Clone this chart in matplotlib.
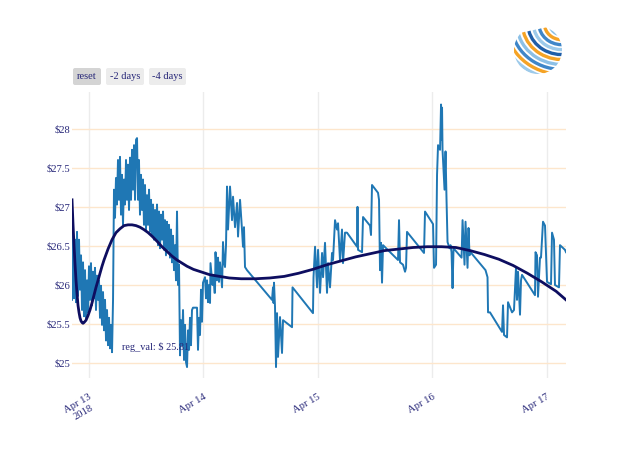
import numpy as np
import matplotlib
matplotlib.use("Agg")
import matplotlib.pyplot as plt
from matplotlib.patches import FancyBboxPatch, Arc, Circle

# ---------------- data (hours after 2018-04-13 00:00, price in $) ----------------
hours = [-3.46, -3.25, -3.04, -2.83, -2.62, -2.41, -2.20, -1.99, -1.78, -1.57, -1.36, -1.15,
         -0.94, -0.73, -0.52, -0.31, -0.10, 0.10, 0.31, 0.52, 0.73, 0.94, 1.15, 1.36, 1.57,
         1.78, 1.99, 2.20, 2.41, 2.62, 2.83, 3.04, 3.25, 3.46, 3.67, 3.88, 4.09, 4.30, 4.51,
         4.72, 4.93, 5.14, 5.34, 5.55, 5.76, 5.97, 6.18, 6.39, 6.60, 6.81, 7.02, 7.23, 7.44,
         7.65, 7.86, 8.07, 8.28, 8.49, 8.70, 8.91, 9.12, 9.33, 9.54, 9.75, 9.96, 10.17, 10.38,
         10.58, 10.79, 11.00, 11.21, 11.42, 11.63, 11.84, 12.05, 12.26, 12.47, 12.68, 12.89,
         13.10, 13.31, 13.52, 13.73, 13.94, 14.15, 14.36, 14.57, 14.78, 14.99, 15.20, 15.41,
         15.62, 15.83, 16.03, 16.24, 16.45, 16.66, 16.87, 17.08, 17.29, 17.50, 17.71, 17.92,
         18.13, 18.34, 18.55, 18.76, 18.97, 19.18, 19.39, 19.60, 19.81, 20.02, 20.23, 20.44,
         20.65, 20.86, 21.07, 21.27, 21.48, 21.69, 21.90, 22.74, 22.95, 23.16, 23.37, 23.58,
         23.79, 24.00, 24.42, 24.63, 24.84, 25.05, 25.26, 25.47, 25.57, 25.99, 26.20, 26.41,
         26.51, 26.62, 26.93, 27.14, 27.35, 27.56, 27.99, 28.19, 28.40, 28.61, 28.82, 29.03,
         29.24, 29.66, 30.08, 30.29, 30.71, 31.13, 31.34, 31.76, 32.17, 32.38, 32.59, 32.80,
         33.22, 38.46, 38.67, 38.78, 38.88, 39.09, 39.30, 39.51, 39.72, 40.14, 40.56, 40.77,
         42.66, 42.76, 47.05, 47.16, 47.48, 47.90, 48.11, 48.53, 48.95, 49.16, 49.57, 49.99,
         50.20, 50.62, 51.04, 51.25, 51.67, 52.09, 52.30, 52.71, 53.13, 53.34, 53.76, 54.18,
         56.28, 56.38, 56.49, 57.33, 57.54, 59.00, 59.21, 59.42, 60.68, 60.89, 61.10, 61.31,
         61.52, 61.73, 64.87, 65.08, 65.29, 65.92, 66.34, 66.55, 66.76, 70.32, 70.53, 72.21,
         72.42, 72.84, 73.05, 73.26, 73.68, 73.89, 73.99, 74.10, 74.20, 74.62, 74.83, 75.04,
         75.25, 75.67, 75.88, 76.09, 76.30, 76.51, 78.19, 78.40, 78.81, 79.02, 79.44, 79.65,
         79.86, 80.07, 83.21, 83.63, 83.74, 84.15, 86.67, 86.88, 87.09, 87.72, 87.93, 88.77,
         89.18, 89.60, 89.81, 90.02, 90.44, 90.65, 90.86, 93.58, 93.69, 94.00, 94.21, 94.63,
         94.84, 95.26, 95.68, 96.10, 96.94, 97.15, 97.56, 97.77, 98.61, 98.82, 99.87, 100.08]
price = [25.81, 26.73, 25.83, 26.58, 25.78, 26.68, 25.86, 26.58, 25.94, 26.38, 25.68, 26.29,
         25.60, 26.19, 25.55, 26.06, 25.65, 26.24, 25.81, 26.28, 25.74, 26.17, 25.83, 26.22, 25.68,
         26.12, 25.81, 26.06, 25.58, 25.99, 25.49, 25.91, 25.42, 25.81, 25.29, 25.68, 25.23, 25.58, 25.19,
         25.49, 25.14, 25.81, 27.22, 26.86, 27.37, 27.03, 27.60, 27.09, 27.64, 26.90, 27.41, 26.77, 27.35,
         27.03, 27.60, 27.09, 27.54, 26.96, 27.63, 27.09, 27.73, 27.22, 27.79, 27.09, 27.86, 27.88, 27.09,
         27.60, 26.90, 27.41, 26.96, 27.35, 26.77, 27.28, 26.71, 27.15, 26.77, 27.22, 26.68,
         27.09, 26.64, 27.03, 26.58, 26.96, 26.60, 27.03, 26.51, 26.94, 26.47, 26.90, 26.58,
         26.94, 26.45, 26.83, 26.38, 26.81, 26.45, 26.77, 26.35, 26.71, 26.29, 26.63, 26.19,
         26.51, 26.06, 26.94, 26.00, 26.26, 25.10, 25.55, 25.23, 25.68, 25.04, 25.49, 25.01,
         24.95, 25.42, 25.17, 25.58, 25.23, 25.68, 25.71, 25.71, 25.17, 25.58, 25.36, 25.94,
         25.53, 26.03, 26.10, 25.83, 26.06, 25.78, 26.00, 25.77, 26.28, 26.00, 26.13, 25.90,
         25.90, 26.42, 26.06, 26.35, 26.04, 26.29, 25.97, 26.55, 26.29, 26.23, 26.51, 27.26,
         26.71, 27.26, 26.83, 27.13, 26.74, 27.05, 26.62, 27.09, 26.71, 26.49, 26.74, 26.23,
         26.19, 25.81, 25.97, 25.77, 26.03, 25.72, 24.95, 25.64, 25.08, 25.59, 25.13, 25.55,
         25.46, 25.97, 25.64, 26.10, 26.49, 25.97, 26.45, 25.90, 26.41, 26.10, 26.54, 25.90,
         26.28, 25.97, 26.41, 26.32, 26.83, 26.71, 26.79, 26.32, 26.71, 26.28, 26.67, 26.67,
         26.49, 27.00, 26.45, 26.42, 26.87, 26.76, 26.64, 27.28, 27.18, 27.09, 26.19, 26.54,
         26.03, 26.51, 26.32, 26.83, 26.29, 26.26, 26.17, 26.22, 26.68, 26.41, 26.94, 26.78,
         26.22, 26.26, 27.41, 27.79, 27.73, 28.31, 27.86, 28.27, 27.73, 27.22, 27.71, 27.09,
         26.55, 26.47, 26.51, 26.42, 25.96, 26.47, 26.35, 26.83, 26.26, 26.81, 26.22, 26.73,
         26.38, 26.42, 26.19, 26.10, 25.65, 25.65, 25.40, 25.74, 25.36, 25.33, 25.78, 25.65,
         25.68, 26.22, 25.81, 26.17, 25.62, 26.06, 26.13, 25.87, 26.42, 26.38, 25.85, 26.35,
         26.35, 26.81, 26.76, 26.04, 26.01, 26.67, 26.58, 26.00, 25.97, 26.51, 26.45, 26.42]

reg_hours = [-3.46, -3.25, -3.04, -2.83, -2.62, -2.41, -2.20, -1.99, -1.78, -1.57, -1.36, -1.15,
             -0.94, -0.52, -0.10, 0.31, 0.73, 1.15, 1.57, 2.00, 2.41, 2.83, 3.25, 4.09, 4.93,
             5.76, 6.60, 7.44, 8.28, 9.12, 9.96, 10.79, 11.60, 12.50, 13.40, 14.36, 15.40,
             16.45, 17.50, 18.55, 19.60, 20.65, 22.00, 23.50, 25.50, 27.50, 29.50, 32.00,
             35.00, 38.00, 41.00, 44.00, 47.00, 50.00, 53.00, 56.00, 59.00, 62.00, 65.00,
             68.00, 71.00, 74.00, 77.00, 80.00, 83.00, 86.00, 89.00, 92.00, 95.00, 98.00, 100.08]
reg_price = [27.09, 26.78, 26.51, 26.27, 26.06, 25.89, 25.74, 25.65, 25.58, 25.54, 25.52, 25.51,
             25.52, 25.55, 25.61, 25.68, 25.77, 25.87, 25.97, 26.06, 26.15, 26.24, 26.32, 26.46,
             26.58, 26.67, 26.72, 26.76, 26.77, 26.77, 26.76, 26.74, 26.71, 26.67, 26.62, 26.56,
             26.49, 26.43, 26.37, 26.32, 26.28, 26.24, 26.20, 26.17, 26.13, 26.11, 26.09, 26.08,
             26.08, 26.09, 26.11, 26.15, 26.20, 26.26, 26.31, 26.36, 26.40, 26.44, 26.46,
             26.48, 26.49, 26.49, 26.48, 26.44, 26.39, 26.33, 26.25, 26.15, 26.04, 25.92, 25.81]

tick_days = ["2018-04-13", "2018-04-14", "2018-04-15", "2018-04-16", "2018-04-17"]
tick_labels = ["Apr 13\n2018", "Apr 14", "Apr 15", "Apr 16", "Apr 17"]
ytick_vals = [25, 25.5, 26, 26.5, 27, 27.5, 28]
ytick_labels = ["$25", "$25.5", "$26", "$26.5", "$27", "$27.5", "$28"]
buttons = ["reset", "-2 days", "-4 days"]
reg_label = "reg_val: $ 25.81"

# ---------------- helpers ----------------
base = np.datetime64("2018-04-13T00:00:00")


def to_time(h):
    secs = np.round(np.asarray(h, dtype=float) * 3600).astype("int64")
    return base + secs.astype("timedelta64[s]")


FONT = "Liberation Serif"
TXT = "#262678"
plt.rcParams["font.family"] = [FONT, "DejaVu Serif"]

fig = plt.figure(figsize=(6.4, 4.57), dpi=100)
W, H = 640, 457
ax = fig.add_axes([72 / W, 1 - 378 / H, (566 - 72) / W, (378 - 92) / H])

t = to_time(hours)
rt = to_time(reg_hours)
ax.plot(t, price, color="#1f77b4", lw=1.4, zorder=3)
ax.plot(rt, reg_price, color="#0e0e60", lw=2.0, zorder=4, solid_joinstyle="round")

ax.set_xlim(t[0], t[-1])
ax.set_ylim(24.81, 28.47)

ax.set_yticks(ytick_vals)
ax.set_yticklabels(ytick_labels, fontsize=7.6, color=TXT)
ax.set_xticks(np.array(tick_days, dtype="datetime64[s]"))
ax.set_xticklabels(tick_labels, fontsize=7.6, color=TXT, rotation=30, ha="right",
                   va="top", rotation_mode="anchor", multialignment="center")
ax.tick_params(axis="both", length=0)
ax.tick_params(axis="y", pad=1)
ax.tick_params(axis="x", pad=10)

for s in ax.spines.values():
    s.set_visible(False)
ax.grid(axis="y", color="#fde6cc", lw=1.0, zorder=0)
ax.grid(axis="x", color="#ececec", lw=1.0, zorder=0)
ax.set_axisbelow(True)

ax.text(to_time([14.15])[0], 25.205, reg_label, fontsize=7.4, color=TXT,
        ha="center", va="center", zorder=5)

# ---------------- overlay: buttons and logo ----------------
ov = fig.add_axes([0, 0, 1, 1])
ov.set_xlim(0, W)
ov.set_ylim(H, 0)
ov.axis("off")
ov.patch.set_alpha(0)

btn_x = [73, 106, 149]
btn_w = [28, 38, 37]
btn_fc = ["#d4d4d4", "#ececec", "#ececec"]
for x0, w, fc, lab in zip(btn_x, btn_w, btn_fc, buttons):
    ov.add_patch(FancyBboxPatch((x0 + 2, 70), w - 4, 13,
                                boxstyle="round,pad=2,rounding_size=2",
                                fc=fc, ec="none"))
    ov.text(x0 + w / 2, 76.5, lab, fontsize=7.5, color=TXT, ha="center", va="center")

clip = Circle((538, 50), 24, transform=ov.transData)
logo_cols = ["#8cc0e6", "#f5a325", "#3f86c8", "#9dcaea", "#1f5ea8", "#f5a325",
             "#8cc0e6", "#3f86c8", "#f5a325", "#9dcaea"]
for i, c in enumerate(logo_cols):
    r = 12 + 5.5 * i
    a = Arc((562, 24), 2 * r, 2 * r * 0.9, angle=0, theta1=80, theta2=168,
            color=c, lw=2.4, transform=ov.transData)
    a.set_clip_path(clip)
    ov.add_patch(a)

fig.savefig("out.png", dpi=100, facecolor="white")
